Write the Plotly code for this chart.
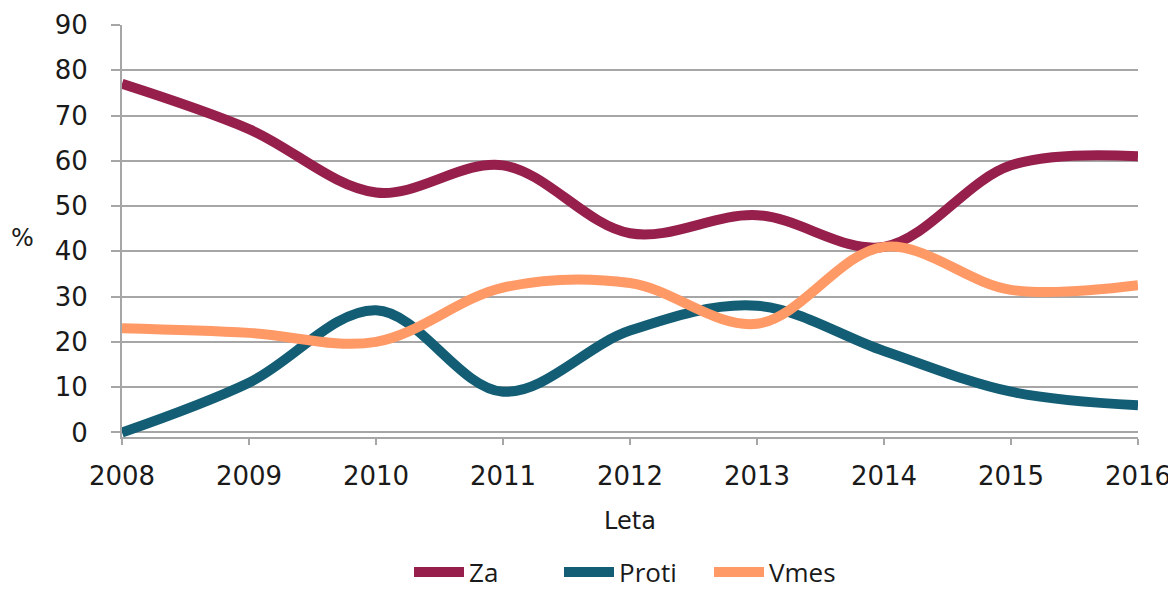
import plotly.graph_objects as go

years = [2008, 2009, 2010, 2011, 2012, 2013, 2014, 2015, 2016]
za = [77, 67, 53, 59, 44, 48, 41, 59, 61]
proti = [0, 11, 27, 9, 22.5, 28, 18, 9, 6]
vmes = [23, 22, 20, 32, 33, 24, 41, 31.5, 32.5]

series = [("Za", za, "#961F4B"), ("Proti", proti, "#135E75"), ("Vmes", vmes, "#FF9966")]

fig = go.Figure()
for name, vals, col in series:
    fig.add_trace(go.Scatter(x=years, y=vals, name=name, mode="lines",
                             line=dict(color=col, width=10, shape="spline", smoothing=1.0)))

# page has an 8px body margin; figure coords = page coords - 8
W, H = 1168, 584
L, T = 114, 17
R = W - 1130
B = H - 429
PH = H - T - B

font_main = "DejaVu Sans"
txt = "#1a1a1a"
grid = "#a6a6a6"
fig.update_layout(
    width=W, height=H,
    margin=dict(l=L, r=R, t=T, b=B, autoexpand=False),
    paper_bgcolor="white", plot_bgcolor="white",
    font=dict(family=font_main, size=26, color=txt),
    showlegend=True,
    legend=dict(orientation="h", x=(401 - 114) / 1016, xanchor="left",
                y=(429 - 564) / PH, yanchor="middle",
                font=dict(family="Open Sans", size=26, color=txt),
                traceorder="normal", itemwidth=50, tracegroupgap=0,
                entrywidth=85, entrywidthmode="pixels"),
    xaxis=dict(range=[2008, 2016], tickvals=years, ticktext=[str(y) for y in years],
               showgrid=False, zeroline=False, showline=True, linecolor=grid, linewidth=2,
               ticks="outside", ticklen=6, tickcolor=grid, tickwidth=2,
               ticklabelstandoff=9, automargin=False),
    yaxis=dict(range=[-1, 90], tickvals=list(range(0, 91, 10)),
               showgrid=True, gridcolor=grid, gridwidth=2,
               zeroline=True, zerolinecolor=grid, zerolinewidth=2,
               showline=True, linecolor=grid, linewidth=2,
               ticks="outside", ticklen=9, tickcolor=grid, tickwidth=2,
               ticklabelstandoff=18, automargin=False),
)
fig.add_annotation(text="%", xref="paper", yref="paper", x=(14 - 114) / 1016, y=(429 - 230) / PH,
                   xanchor="center", yanchor="middle", showarrow=False,
                   font=dict(family=font_main, size=24, color=txt))
fig.add_annotation(text="Leta", xref="paper", yref="paper", x=(622 - 114) / 1016, y=(429 - 513) / PH,
                   xanchor="center", yanchor="middle", showarrow=False,
                   font=dict(family=font_main, size=24, color=txt))

fig.write_html("out.html")
